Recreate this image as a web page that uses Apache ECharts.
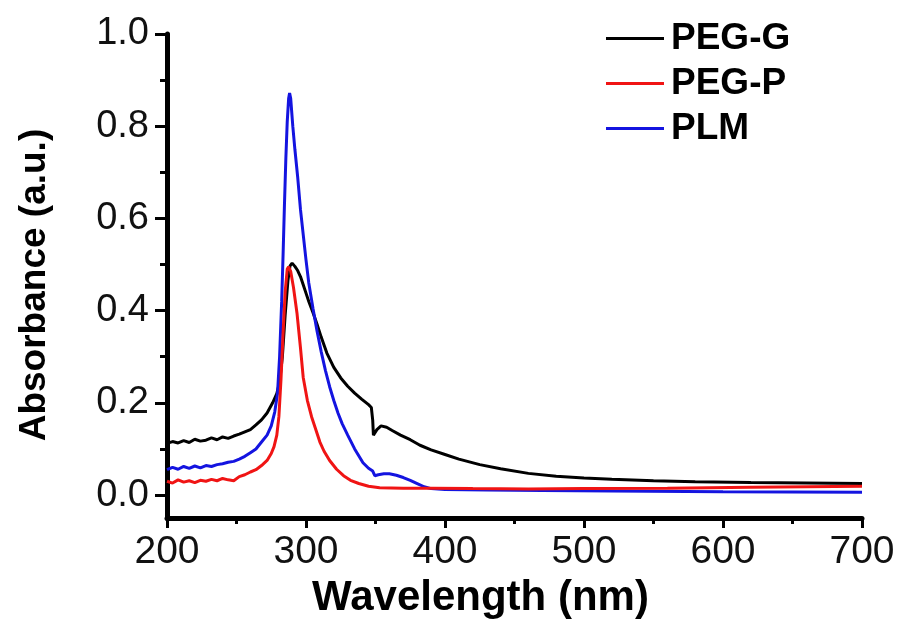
<!DOCTYPE html>
<html>
<head>
<meta charset="utf-8">
<script src="https://cdn.jsdelivr.net/npm/echarts@6/dist/echarts.min.js"></script>
<style>
  html, body { margin: 0; padding: 0; background: #fff; }
  #chart { width: 904px; height: 624px; }
</style>
</head>
<body>
<div id="chart"></div>
<script>
// ---- Data ----
const seriesNames = ['PEG-G', 'PEG-P', 'PLM'];

const pegGWl  = [200,204,208,212,216,220,224,228,232,236,240,244,248,252,256,260,264,268,272,276,279,281,283,285,287,288.5,290,292,294,296,298,300,302,305,308,311,315,320,325,330,335,340,345,347,348,348.5,351,354,358,362,368,375,382,390,400,410,425,440,460,480,500,520,550,580,620,660,700];
const pegGAbs = [0.112,0.116,0.113,0.118,0.114,0.121,0.117,0.119,0.124,0.120,0.126,0.123,0.128,0.132,0.137,0.142,0.152,0.163,0.178,0.200,0.220,0.245,0.300,0.390,0.465,0.497,0.503,0.496,0.487,0.474,0.456,0.438,0.420,0.396,0.370,0.342,0.308,0.277,0.254,0.236,0.221,0.208,0.196,0.190,0.162,0.130,0.142,0.150,0.147,0.140,0.130,0.120,0.108,0.098,0.088,0.078,0.066,0.057,0.047,0.041,0.037,0.034,0.031,0.029,0.027,0.026,0.025];

const pegPWl  = [200,204,208,212,216,220,224,228,232,236,240,244,248,252,256,260,264,268,272,275,277,279,280.5,282,283.5,285,286.5,287.5,289,291,293.5,296,298,301,304,306.5,310,313,317,322,327,332,338,345,353,370,390,420,460,500,560,620,700];
const pegPAbs = [0.030,0.026,0.033,0.028,0.031,0.027,0.032,0.030,0.034,0.031,0.036,0.033,0.031,0.040,0.044,0.050,0.055,0.064,0.075,0.090,0.105,0.130,0.170,0.250,0.350,0.440,0.490,0.495,0.485,0.450,0.395,0.320,0.255,0.205,0.170,0.147,0.115,0.095,0.075,0.056,0.042,0.032,0.025,0.019,0.016,0.015,0.015,0.014,0.013,0.014,0.015,0.017,0.019];

const plmWl  = [200,204,208,212,216,220,224,228,232,236,240,244,248,252,256,260,264,268,272,275,277.5,279.5,281,282.5,283.5,284.5,285.5,286.5,287.5,288.2,289,290.5,292,294,296,298,300,302,305,308,311,314,317,320,323,326,330,335,341,345,348,349.5,352,356,360,365,370,375,380,385,390,400,430,470,520,600,700];
const plmAbs = [0.055,0.060,0.056,0.062,0.058,0.063,0.059,0.064,0.062,0.066,0.068,0.071,0.073,0.078,0.084,0.092,0.100,0.115,0.130,0.150,0.180,0.220,0.300,0.420,0.520,0.630,0.730,0.810,0.860,0.872,0.860,0.800,0.750,0.690,0.620,0.565,0.510,0.460,0.405,0.355,0.310,0.270,0.235,0.205,0.178,0.155,0.130,0.100,0.070,0.058,0.052,0.042,0.044,0.046,0.046,0.043,0.038,0.032,0.025,0.018,0.014,0.012,0.011,0.010,0.009,0.007,0.006];

const yMajorTicks = [0.0, 0.2, 0.4, 0.6, 0.8, 1.0];
const yMinorTicks = [0.1, 0.3, 0.5, 0.7, 0.9];

const zip = (xs, ys) => xs.map((x, i) => [x, ys[i]]);

const FONT = "'Liberation Sans', Arial, sans-serif";
const colors = { 'PEG-G': '#000000', 'PEG-P': '#f01414', 'PLM': '#1414e0' };

const chart = echarts.init(document.getElementById('chart'), null, { renderer: 'canvas' });

const baseY = {
  type: 'value',
  min: -0.05,
  max: 1.0,
  position: 'left',
  splitLine: { show: false }
};

chart.setOption({
  animation: false,
  backgroundColor: '#ffffff',
  grid: { left: 167, right: 42, top: 34, bottom: 99, containLabel: false },
  legend: {
    data: seriesNames,
    orient: 'vertical',
    left: 601,
    top: 15,
    icon: 'rect',
    itemWidth: 58,
    itemHeight: 3,
    itemGap: 8,
    textStyle: { fontFamily: FONT, fontWeight: 'bold', fontSize: 37, color: '#000', lineHeight: 37, padding: [0, 0, 0, 2] }
  },
  xAxis: {
    type: 'value',
    min: 200,
    max: 700,
    interval: 100,
    name: 'Wavelength (nm)',
    nameLocation: 'middle',
    nameGap: 55,
    nameTextStyle: { fontFamily: FONT, fontWeight: 'bold', fontSize: 42, color: '#000', padding: [0, 68, 0, 0] },
    axisLine: { show: true, onZero: false, lineStyle: { color: '#000', width: 5 } },
    axisTick: { show: true, length: 10, lineStyle: { color: '#000', width: 3 } },
    minorTick: { show: true, splitNumber: 2, length: 6, lineStyle: { color: '#000', width: 3 } },
    axisLabel: { fontFamily: FONT, fontSize: 39, color: '#111', margin: 15 },
    splitLine: { show: false }
  },
  yAxis: [
    Object.assign({}, baseY, {
      name: 'Absorbance (a.u.)',
      nameLocation: 'middle',
      nameRotate: 90,
      nameGap: 114,
      nameTextStyle: { fontFamily: FONT, fontWeight: 'bold', fontSize: 37, color: '#000', padding: [0, 18, 0, 0] },
      axisLine: { show: true, onZero: false, lineStyle: { color: '#000', width: 5 } },
      axisTick: { show: true, length: 12, customValues: yMajorTicks, lineStyle: { color: '#000', width: 3 } },
      axisLabel: {
        fontFamily: FONT, fontSize: 38, color: '#111', margin: 18,
        customValues: yMajorTicks,
        formatter: v => v.toFixed(1)
      }
    }),
    Object.assign({}, baseY, {
      axisLine: { show: false },
      axisTick: { show: true, length: 7, customValues: yMinorTicks, lineStyle: { color: '#000', width: 3 } },
      axisLabel: { show: false }
    })
  ],
  series: [
    { name: 'PEG-G', data: zip(pegGWl, pegGAbs) },
    { name: 'PLM', data: zip(plmWl, plmAbs) },
    { name: 'PEG-P', data: zip(pegPWl, pegPAbs) }
  ].map(s => ({
    name: s.name,
    type: 'line',
    yAxisIndex: 0,
    data: s.data,
    symbol: 'none',
    showSymbol: false,
    smooth: false,
    color: colors[s.name],
    itemStyle: { color: colors[s.name] },
    lineStyle: { color: colors[s.name], width: 3 },
    emphasis: { disabled: true }
  }))
});
</script>
</body>
</html>
